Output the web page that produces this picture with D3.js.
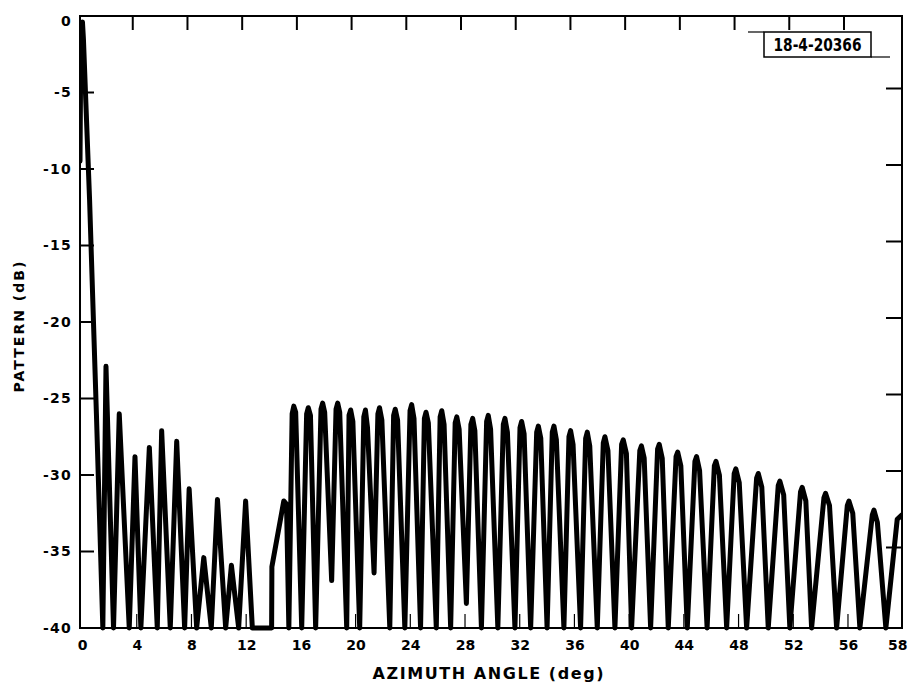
<!DOCTYPE html>
<html>
<head>
<meta charset="utf-8">
<script src="https://cdn.jsdelivr.net/npm/d3@7"></script>
<style>
  html, body { margin: 0; padding: 0; background: #fff; }
  svg { display: block; }
  text { font-family: "DejaVu Sans", sans-serif; fill: #000; }
</style>
</head>
<body>
<svg id="chart" width="911" height="686"></svg>
<script>
// ---------- data ----------
const azimuth = [
  -0.15, -0.1, -0.05, 0.03, 0.1, 0.55, 1.05, 1.52,
  1.75, 2.3, 2.72, 3.45, 3.87, 4.3, 4.92, 5.5, 5.82, 6.45, 6.92, 7.5,
  7.83, 8.38, 8.9, 9.45, 9.9, 10.5, 10.92, 11.45, 11.96, 12.45,
  13.86, 13.88, 14.75, 14.95, 15.12,
  15.36, 15.48, 15.62, 16.06,
  16.42, 16.54, 16.7, 17.08,
  17.47, 17.59, 17.74, 18.25,
  18.57, 18.69, 18.84, 19.35,
  19.52, 19.64, 19.8, 20.3,
  20.6, 20.72, 20.87, 21.35,
  21.63, 21.75, 21.92, 22.5,
  22.78, 22.9, 23.07, 23.6,
  23.98, 24.1, 24.27, 24.75,
  25.03, 25.15, 25.32, 25.9,
  26.18, 26.3, 26.47, 26.95,
  27.28, 27.4, 27.57, 28.1,
  28.43, 28.56, 28.72, 29.2,
  29.58, 29.7, 29.87, 30.4,
  30.8, 30.92, 31.1, 31.65,
  32.02, 32.14, 32.32, 32.8,
  33.24, 33.36, 33.54, 34.0,
  34.38, 34.5, 34.68, 35.23,
  35.6, 35.72, 35.9, 36.45,
  36.82, 36.94, 37.12, 37.67,
  38.11, 38.23, 38.45, 38.96,
  39.45, 39.57, 39.8, 40.18,
  40.78, 40.9, 41.1, 41.57,
  42.08, 42.2, 42.42, 42.86,
  43.43, 43.55, 43.78, 44.25,
  44.81, 44.93, 45.15, 45.7,
  46.23, 46.35, 46.6, 47.13,
  47.68, 47.8, 48.05, 48.59,
  49.32, 49.44, 49.7, 50.17,
  50.9, 51.02, 51.3, 51.75,
  52.53, 52.65, 52.92, 53.34,
  54.24, 54.36, 54.65, 55.17,
  55.95, 56.07, 56.35, 56.87,
  57.78, 57.9, 58.15, 58.77,
  59.6, 59.95
];
const patternDb = [
  -9.5, -3.0, -0.5, -0.4, -1.5, -12, -26, -40,
  -22.9, -40, -26.0, -40, -28.8, -40, -28.2, -40, -27.1, -40, -27.8, -40,
  -30.9, -40, -35.4, -40, -31.6, -40, -35.9, -40, -31.7, -40,
  -40, -36.0, -31.7, -31.9, -40,
  -26.0, -25.5, -25.9, -40,
  -26.0, -25.6, -26.1, -40,
  -25.7, -25.3, -25.9, -36.9,
  -25.7, -25.3, -25.9, -40,
  -26.1, -25.75, -26.5, -40,
  -26.2, -25.75, -26.9, -36.4,
  -26.0, -25.6, -26.4, -40,
  -26.1, -25.7, -26.4, -40,
  -25.8, -25.4, -26.3, -40,
  -26.3, -25.9, -26.6, -40,
  -26.2, -25.8, -26.7, -40,
  -26.6, -26.2, -27.0, -38.4,
  -26.7, -26.3, -27.1, -40,
  -26.5, -26.1, -27.0, -40,
  -26.7, -26.3, -27.2, -40,
  -26.9, -26.5, -27.3, -40,
  -27.2, -26.8, -27.6, -40,
  -27.2, -26.8, -27.7, -40,
  -27.5, -27.1, -28.0, -40,
  -27.6, -27.2, -28.1, -40,
  -27.9, -27.5, -28.4, -40,
  -28.0, -27.7, -28.6, -40,
  -28.4, -28.1, -28.9, -40,
  -28.3, -28.0, -28.9, -40,
  -28.8, -28.5, -29.4, -40,
  -29.1, -28.8, -29.7, -40,
  -29.4, -29.1, -30.0, -40,
  -29.9, -29.6, -30.5, -40,
  -30.2, -29.9, -30.8, -40,
  -30.7, -30.4, -31.3, -40,
  -31.1, -30.8, -31.7, -40,
  -31.5, -31.2, -32.0, -40,
  -32.0, -31.7, -32.5, -40,
  -32.6, -32.3, -33.1, -40,
  -32.9, -32.6
];
const xTickValues = [0, 4, 8, 12, 16, 20, 24, 28, 32, 36, 40, 44, 48, 52, 56, 59.6];
const xTickLabels = ["0", "4", "8", "12", "16", "20", "24", "28", "32", "36", "40", "44", "48", "52", "56", "58"];
const xMinorTicks = [4, 8, 12, 16, 20, 24, 28, 32, 36, 40, 44, 48, 52, 56];
const yTickValues = [0, -5, -10, -15, -20, -25, -30, -35, -40];
const yInnerTicks = [-5, -10, -15, -20, -25, -30, -35];
const xTitle = "AZIMUTH ANGLE (deg)";
const yTitle = "PATTERN (dB)";
const figureId = "18-4-20366";

// ---------- layout ----------
const svg = d3.select("#chart");
const L = 80, R = 902, T = 16, B = 628;
const x = d3.scaleLinear().domain([-0.15, 59.95]).range([L, R]);
const y = d3.scaleLinear().domain([-40, 0]).range([B, T]);

// clip
svg.append("defs").append("clipPath").attr("id", "plotclip")
  .append("rect").attr("x", L - 1).attr("y", T - 3).attr("width", R - L + 2).attr("height", B - T + 6);

// frame
svg.append("rect").attr("x", L).attr("y", T).attr("width", R - L).attr("height", B - T)
  .attr("fill", "none").attr("stroke", "#000").attr("stroke-width", 2);

// inner ticks: left, right, top, bottom
const gTicks = svg.append("g").attr("stroke", "#000");
gTicks.selectAll("line.lt").data(yInnerTicks).join("line").attr("class", "lt")
  .attr("x1", L).attr("x2", L + 14).attr("y1", d => y(d)).attr("y2", d => y(d)).attr("stroke-width", 2);
gTicks.selectAll("line.rt").data(yInnerTicks).join("line").attr("class", "rt")
  .attr("x1", R).attr("x2", R - 16).attr("y1", d => y(d) - 4).attr("y2", d => y(d) - 4).attr("stroke-width", 2);
gTicks.selectAll("line.tt").data(xMinorTicks).join("line").attr("class", "tt")
  .attr("x1", d => x(d) - 4).attr("x2", d => x(d) - 4).attr("y1", T).attr("y2", T + 14).attr("stroke-width", 2);
gTicks.selectAll("line.bt").data(xMinorTicks).join("line").attr("class", "bt")
  .attr("x1", d => x(d)).attr("x2", d => x(d)).attr("y1", B).attr("y2", B - 14).attr("stroke-width", 1.2);

// axes labels via d3 axes
const xAxis = d3.axisBottom(x).tickValues(xTickValues).tickSize(0).tickPadding(12)
  .tickFormat((d, i) => xTickLabels[i]);
const gx = svg.append("g").attr("transform", `translate(0,${B})`).call(xAxis);
gx.select(".domain").remove();
gx.selectAll("text").attr("font-size", 14).attr("font-weight", "bold")
  .attr("font-family", "DejaVu Sans, sans-serif").attr("fill", "#000");

const yAxis = d3.axisLeft(y).tickValues(yTickValues).tickSize(0).tickPadding(8)
  .tickFormat(d => String(d));
const gy = svg.append("g").attr("transform", `translate(${L},0)`).call(yAxis);
gy.select(".domain").remove();
gy.selectAll("text").attr("font-size", 14).attr("font-weight", "bold").attr("letter-spacing", 1.2)
  .attr("font-family", "DejaVu Sans, sans-serif").attr("fill", "#000")
  .attr("dy", (d) => d === 0 ? "0.7em" : "0.32em");

// titles
svg.append("text").attr("x", 488).attr("y", 679).attr("text-anchor", "middle")
  .attr("font-size", 16).attr("font-weight", "bold").attr("textLength", 231).attr("lengthAdjust", "spacing")
  .text(xTitle);
svg.append("text").attr("transform", "translate(24,327) rotate(-90)").attr("text-anchor", "middle")
  .attr("font-size", 14).attr("font-weight", "bold").attr("textLength", 131).attr("lengthAdjust", "spacing")
  .text(yTitle);

// figure id box
svg.append("rect").attr("x", 764).attr("y", 32).attr("width", 107).attr("height", 25)
  .attr("fill", "#fff").attr("stroke", "#000").attr("stroke-width", 1.5);
svg.append("line").attr("x1", 748).attr("x2", 764).attr("y1", 32).attr("y2", 32).attr("stroke", "#000").attr("stroke-width", 1.2);
svg.append("line").attr("x1", 871).attr("x2", 890).attr("y1", 57).attr("y2", 57).attr("stroke", "#000").attr("stroke-width", 1.2);
svg.append("text").attr("x", 817.5).attr("y", 51).attr("text-anchor", "middle")
  .attr("font-size", 17).attr("font-weight", "bold")
  .attr("font-family", "DejaVu Sans Condensed, DejaVu Sans, sans-serif")
  .attr("textLength", 88).attr("lengthAdjust", "spacingAndGlyphs")
  .text(figureId);

// pattern curve
const pts = azimuth.map((a, i) => [a, patternDb[i]]);
const line = d3.line().x(d => x(d[0])).y(d => y(d[1]));
svg.append("path").datum(pts).attr("clip-path", "url(#plotclip)")
  .attr("d", line).attr("fill", "none").attr("stroke", "#000")
  .attr("stroke-width", 5).attr("stroke-linejoin", "round").attr("stroke-linecap", "round");
</script>
</body>
</html>
